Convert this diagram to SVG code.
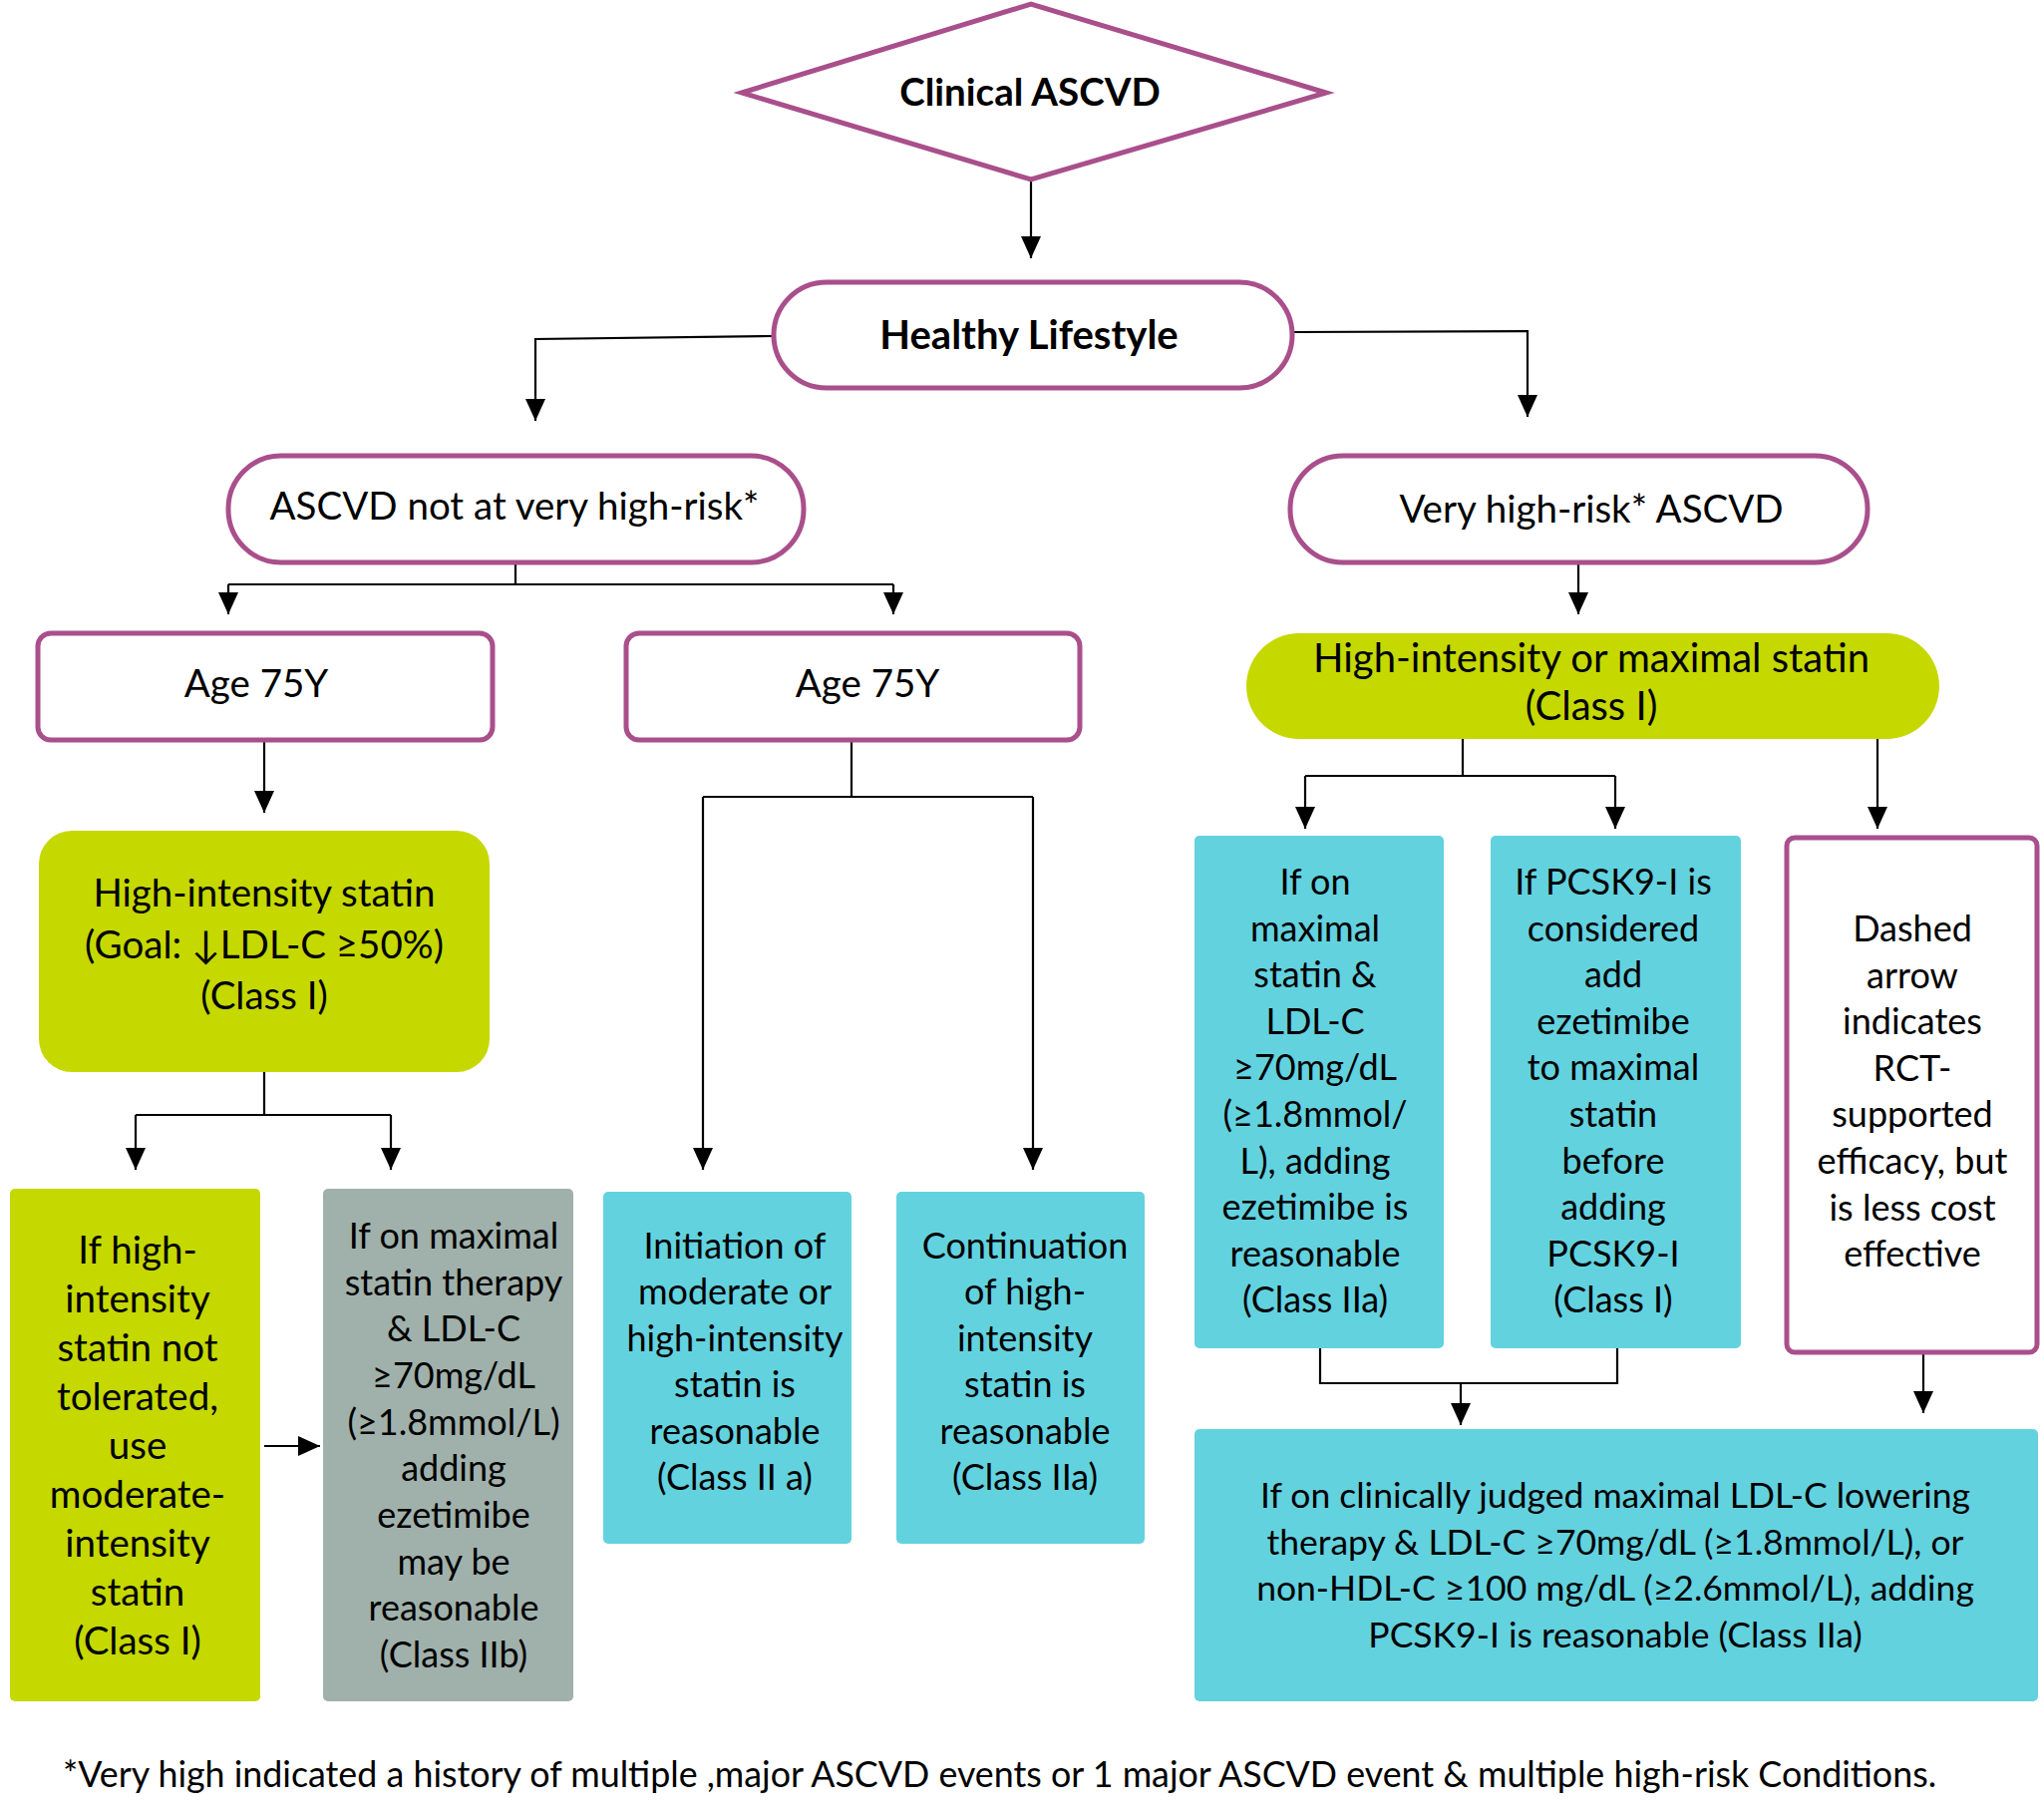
<svg xmlns="http://www.w3.org/2000/svg" width="2048" height="1825" viewBox="0 0 2048 1825">
<defs>
<style>
.pb{fill:#fff;stroke:#A94F8B;stroke-width:5}
.gn{fill:#C5D800}
.cy{fill:#63D2DF}
.gy{fill:#A0B1AB}
.t{font-family:Lato,"Liberation Sans",sans-serif;font-size:36px;fill:#000;text-anchor:middle}
.b{font-weight:bold}
.h{font-size:38.5px}
.h40{font-size:40px}
.s35{font-size:35.5px}
.ft{text-anchor:start;font-size:35.8px}
.cn{stroke:#000;stroke-width:2.2;fill:none}
.ar{stroke:#000;stroke-width:2.2;fill:none;marker-end:url(#ah)}
</style>
<marker id="ah" markerUnits="userSpaceOnUse" markerWidth="22" markerHeight="20" viewBox="0 0 22 20" refX="22" refY="10" orient="auto">
<path d="M0,0 L22,10 L0,20 z" fill="#000"/>
</marker>
</defs>
<rect width="2048" height="1825" fill="#fff"/>

<g id="connectors">
<path class="ar" d="M1034,180 V259"/>
<path class="ar" d="M776,337 L537,340 V422"/>
<path class="ar" d="M1296,333 L1532,332 V418"/>
<path class="cn" d="M517,564 V586 M229,586 H896"/>
<path class="ar" d="M229,586 V616"/>
<path class="ar" d="M896,586 V616"/>
<path class="ar" d="M265,742 V815"/>
<path class="cn" d="M265,1075 V1118 M136,1118 H392"/>
<path class="ar" d="M136,1118 V1173"/>
<path class="ar" d="M392,1118 V1173"/>
<path class="cn" d="M854,742 V799 M705,799 H1036"/>
<path class="ar" d="M705,799 V1173"/>
<path class="ar" d="M1036,799 V1173"/>
<path class="ar" d="M265,1450 H321"/>
<path class="ar" d="M1583,564 V616"/>
<path class="cn" d="M1467,741 V778 M1309,778 H1620"/>
<path class="ar" d="M1309,778 V831"/>
<path class="ar" d="M1620,778 V831"/>
<path class="ar" d="M1883,741 V831"/>
<path class="cn" d="M1324,1352 V1387 H1622 V1352"/>
<path class="ar" d="M1465,1387 V1429"/>
<path class="ar" d="M1929,1356 V1417"/>
</g>

<g id="clinical">
<polygon class="pb" points="744,93 1034,4 1330,93 1034,180"/>
<text class="t b h" x="1033" y="106">Clinical ASCVD</text>
</g>

<g id="healthy">
<rect class="pb" x="776" y="283" width="520" height="106" rx="53"/>
<text class="t b h40" x="1032" y="350">Healthy Lifestyle</text>
</g>

<g id="notvery">
<rect class="pb" x="229" y="457" width="577" height="107" rx="53"/>
<text class="t h" x="516" y="521">ASCVD not at very high-risk*</text>
</g>

<g id="veryhigh">
<rect class="pb" x="1294" y="457" width="579" height="107" rx="53"/>
<text class="t h" x="1596" y="524">Very high-risk* ASCVD</text>
</g>

<g id="age1">
<rect class="pb" x="38" y="635" width="456" height="107" rx="13"/>
<text class="t h" x="257" y="699">Age 75Y</text>
</g>

<g id="age2">
<rect class="pb" x="628" y="635" width="455" height="107" rx="13"/>
<text class="t h" x="870" y="699">Age 75Y</text>
</g>

<g id="highstatin">
<rect class="gn" x="39" y="833" width="452" height="242" rx="33"/>
<text class="t h" x="265" y="909">High-intensity statin</text>
<text class="t h" x="265" y="961">(Goal: ↓LDL-C ≥50%)</text>
<text class="t h" x="265" y="1012">(Class I)</text>
</g>

<g id="nottolerated">
<rect class="gn" x="10" y="1192" width="251" height="514" rx="5"/>
<text class="t h" x="138" y="1267">If high-</text>
<text class="t h" x="138" y="1316">intensity</text>
<text class="t h" x="138" y="1365">statin not</text>
<text class="t h" x="138" y="1414">tolerated,</text>
<text class="t h" x="138" y="1463">use</text>
<text class="t h" x="138" y="1512">moderate-</text>
<text class="t h" x="138" y="1561">intensity</text>
<text class="t h" x="138" y="1610">statin</text>
<text class="t h" x="138" y="1659">(Class I)</text>
</g>

<g id="maxstatin">
<rect class="gy" x="324" y="1192" width="251" height="514" rx="5"/>
<text class="t" x="455" y="1252">If on maximal</text>
<text class="t" x="455" y="1299">statin therapy</text>
<text class="t" x="455" y="1345">&amp; LDL-C</text>
<text class="t" x="455" y="1392">≥70mg/dL</text>
<text class="t" x="455" y="1439">(≥1.8mmol/L)</text>
<text class="t" x="455" y="1485">adding</text>
<text class="t" x="455" y="1532">ezetimibe</text>
<text class="t" x="455" y="1579">may be</text>
<text class="t" x="455" y="1625">reasonable</text>
<text class="t" x="455" y="1672">(Class IIb)</text>
</g>

<g id="initiation">
<rect class="cy" x="605" y="1195" width="249" height="353" rx="5"/>
<text class="t" x="737" y="1262">Initiation of</text>
<text class="t" x="737" y="1308">moderate or</text>
<text class="t" x="737" y="1355">high-intensity</text>
<text class="t" x="737" y="1401">statin is</text>
<text class="t" x="737" y="1448">reasonable</text>
<text class="t" x="737" y="1494">(Class II a)</text>
</g>

<g id="continuation">
<rect class="cy" x="899" y="1195" width="249" height="353" rx="5"/>
<text class="t" x="1028" y="1262">Continuation</text>
<text class="t" x="1028" y="1308">of high-</text>
<text class="t" x="1028" y="1355">intensity</text>
<text class="t" x="1028" y="1401">statin is</text>
<text class="t" x="1028" y="1448">reasonable</text>
<text class="t" x="1028" y="1494">(Class IIa)</text>
</g>

<g id="maximal">
<rect class="gn" x="1250" y="635" width="695" height="106" rx="53"/>
<text class="t h40" x="1596" y="674">High-intensity or maximal statin</text>
<text class="t h40" x="1596" y="722">(Class I)</text>
</g>

<g id="ezetimibe">
<rect class="cy" x="1198" y="838" width="250" height="514" rx="5"/>
<text class="t" x="1319" y="897">If on</text>
<text class="t" x="1319" y="944">maximal</text>
<text class="t" x="1319" y="990">statin &amp;</text>
<text class="t" x="1319" y="1037">LDL-C</text>
<text class="t" x="1319" y="1083">≥70mg/dL</text>
<text class="t" x="1319" y="1130">(≥1.8mmol/</text>
<text class="t" x="1319" y="1177">L), adding</text>
<text class="t" x="1319" y="1223">ezetimibe is</text>
<text class="t" x="1319" y="1270">reasonable</text>
<text class="t" x="1319" y="1316">(Class IIa)</text>
</g>

<g id="pcsk9">
<rect class="cy" x="1495" y="838" width="251" height="514" rx="5"/>
<text class="t" x="1618" y="897">If PCSK9-I is</text>
<text class="t" x="1618" y="944">considered</text>
<text class="t" x="1618" y="990">add</text>
<text class="t" x="1618" y="1037">ezetimibe</text>
<text class="t" x="1618" y="1083">to maximal</text>
<text class="t" x="1618" y="1130">statin</text>
<text class="t" x="1618" y="1177">before</text>
<text class="t" x="1618" y="1223">adding</text>
<text class="t" x="1618" y="1270">PCSK9-I</text>
<text class="t" x="1618" y="1316">(Class I)</text>
</g>

<g id="dashed">
<rect class="pb" x="1792" y="840" width="251" height="516" rx="8"/>
<text class="t" x="1918" y="944">Dashed</text>
<text class="t" x="1918" y="991">arrow</text>
<text class="t" x="1918" y="1037">indicates</text>
<text class="t" x="1918" y="1084">RCT-</text>
<text class="t" x="1918" y="1130">supported</text>
<text class="t" x="1918" y="1177">efficacy, but</text>
<text class="t" x="1918" y="1224">is less cost</text>
<text class="t" x="1918" y="1270">effective</text>
</g>

<g id="addpcsk9">
<rect class="cy" x="1198" y="1433" width="846" height="273" rx="5"/>
<text class="t s35" x="1620" y="1512">If on clinically judged maximal LDL-C lowering</text>
<text class="t s35" x="1620" y="1559">therapy &amp; LDL-C ≥70mg/dL (≥1.8mmol/L), or</text>
<text class="t s35" x="1620" y="1605">non-HDL-C ≥100 mg/dL (≥2.6mmol/L), adding</text>
<text class="t s35" x="1620" y="1652">PCSK9-I is reasonable (Class IIa)</text>
</g>

<text class="t ft" x="63" y="1792">*Very high indicated a history of multiple ,major ASCVD events or 1 major ASCVD event &amp; multiple high-risk Conditions.</text>
</svg>
